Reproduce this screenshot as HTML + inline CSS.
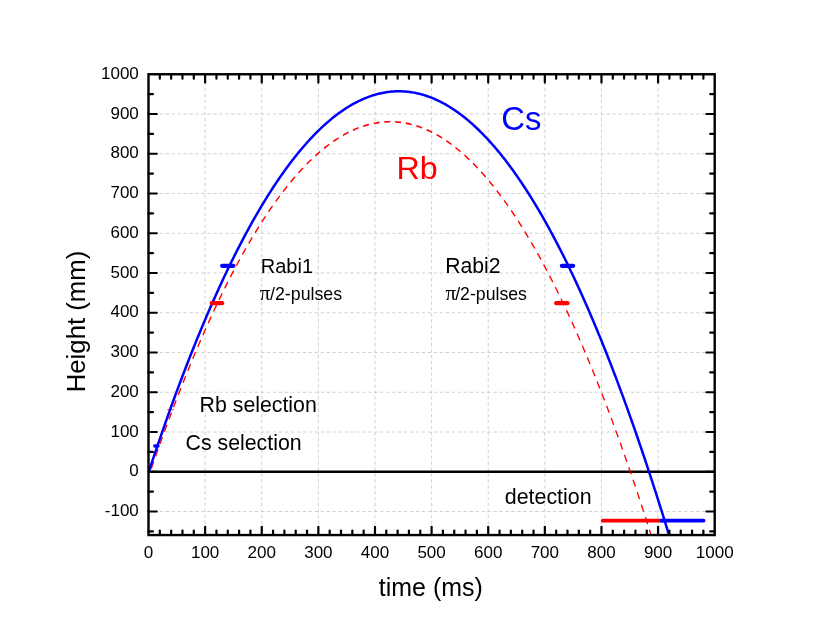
<!DOCTYPE html><html><head><meta charset="utf-8"><title>Cs Rb fountain</title>
<style>html,body{margin:0;padding:0;background:#fff}svg{display:block;will-change:transform}text{font-family:"Liberation Sans",sans-serif}.s{font-family:"Liberation Serif",serif}</style></head><body>
<svg width="830" height="642" viewBox="0 0 830 642">
<rect width="830" height="642" fill="#fff"/>
<g stroke="#c4c4c4" stroke-width="0.8" stroke-dasharray="3.2 2.76" fill="none">
<path d="M205.12 74.25V535.05" stroke-dasharray="3.2 2.73" stroke-dashoffset="4.0"/>
<path d="M261.74 74.25V535.05" stroke-dasharray="3.2 2.73" stroke-dashoffset="4.0"/>
<path d="M318.36 74.25V535.05" stroke-dasharray="3.2 2.73" stroke-dashoffset="4.0"/>
<path d="M374.98 74.25V535.05" stroke-dasharray="3.2 2.73" stroke-dashoffset="4.0"/>
<path d="M431.60 74.25V535.05" stroke-dasharray="3.2 2.73" stroke-dashoffset="4.0"/>
<path d="M488.22 74.25V535.05" stroke-dasharray="3.2 2.73" stroke-dashoffset="4.0"/>
<path d="M544.84 74.25V535.05" stroke-dasharray="3.2 2.73" stroke-dashoffset="4.0"/>
<path d="M601.46 74.25V535.05" stroke-dasharray="3.2 2.73" stroke-dashoffset="4.0"/>
<path d="M658.08 74.25V535.05" stroke-dasharray="3.2 2.73" stroke-dashoffset="4.0"/>
<path d="M148.50 432.00H714.70" stroke-dashoffset="0.7"/>
<path d="M148.50 392.25H714.70" stroke-dashoffset="0.7"/>
<path d="M148.50 352.50H714.70" stroke-dashoffset="0.7"/>
<path d="M148.50 312.75H714.70" stroke-dashoffset="0.7"/>
<path d="M148.50 273.00H714.70" stroke-dashoffset="0.7"/>
<path d="M148.50 233.25H714.70" stroke-dashoffset="0.7"/>
<path d="M148.50 193.50H714.70" stroke-dashoffset="0.7"/>
<path d="M148.50 153.75H714.70" stroke-dashoffset="0.7"/>
<path d="M148.50 114.00H714.70" stroke-dashoffset="0.7"/>
<path d="M148.50 511.50H714.70" stroke-dashoffset="0.7"/>
</g>
<path d="M148.50 471.75H714.70" stroke="#000" stroke-width="2.4"/>
<path d="M167.18 409.74H173.98" stroke="#f00" stroke-width="0.8"/>
<clipPath id="c"><rect x="148.50" y="74.25" width="566.20" height="460.80"/></clipPath>
<g clip-path="url(#c)" fill="none"><g transform="scale(1 1.2570)">
<path d="M150.26,375.298 L151.51,372.403 L152.76,369.522 L154.01,366.657 L155.26,363.806 L156.51,360.971 L157.76,358.151 L159.01,355.346 L160.27,352.556 L161.52,349.782 L162.77,347.022 L164.02,344.278 L165.27,341.549 L166.52,338.834 L167.77,336.135 L169.02,333.452 L170.28,330.783 L171.53,328.129 L172.78,325.491 L174.03,322.868 L175.28,320.259 L176.53,317.666 L177.78,315.088 L179.04,312.526 L180.29,309.978 L181.54,307.446 L182.79,304.928 L184.04,302.426 L185.29,299.939 L186.54,297.467 L187.79,295.010 L189.05,292.568 L190.30,290.142 L191.55,287.730 L192.80,285.334 L194.05,282.953 L195.30,280.587 L196.55,278.236 L197.80,275.900 L199.06,273.580 L200.31,271.274 L201.56,268.984 L202.81,266.709 L204.06,264.449 L205.31,262.204 L206.56,259.974 L207.82,257.759 L209.07,255.560 L210.32,253.375 L211.57,251.206 L212.82,249.052 L214.07,246.913 L215.32,244.789 L216.57,242.680 L217.83,240.587 L219.08,238.508 L220.33,236.445 L221.58,234.397 L222.83,232.364 L224.08,230.346 L225.33,228.343 L226.58,226.355 L227.84,224.383 L229.09,222.425 L230.34,220.483 L231.59,218.556 L232.84,216.644 L234.09,214.747 L235.34,212.866 L236.60,210.999 L237.85,209.148 L239.10,207.311 L240.35,205.490 L241.60,203.684 L242.85,201.893 L244.10,200.117 L245.35,198.357 L246.61,196.611 L247.86,194.881 L249.11,193.166 L250.36,191.465 L251.61,189.781 L252.86,188.111 L254.11,186.456 L255.36,184.816 L256.62,183.192 L257.87,181.583 L259.12,179.989 L260.37,178.410 L261.62,176.846 L262.87,175.297 L264.12,173.763 L265.38,172.245 L266.63,170.741 L267.88,169.253 L269.13,167.780 L270.38,166.322 L271.63,164.879 L272.88,163.452 L274.13,162.039 L275.39,160.642 L276.64,159.259 L277.89,157.892 L279.14,156.540 L280.39,155.203 L281.64,153.882 L282.89,152.575 L284.14,151.284 L285.40,150.007 L286.65,148.746 L287.90,147.500 L289.15,146.269 L290.40,145.053 L291.65,143.853 L292.90,142.667 L294.15,141.497 L295.41,140.342 L296.66,139.201 L297.91,138.076 L299.16,136.967 L300.41,135.872 L301.66,134.792 L302.91,133.728 L304.17,132.679 L305.42,131.644 L306.67,130.625 L307.92,129.621 L309.17,128.633 L310.42,127.659 L311.67,126.700 L312.92,125.757 L314.18,124.829 L315.43,123.916 L316.68,123.018 L317.93,122.135 L319.18,121.267 L320.43,120.415 L321.68,119.577 L322.93,118.755 L324.19,117.948 L325.44,117.156 L326.69,116.379 L327.94,115.617 L329.19,114.870 L330.44,114.139 L331.69,113.423 L332.95,112.721 L334.20,112.035 L335.45,111.364 L336.70,110.709 L337.95,110.068 L339.20,109.442 L340.45,108.832 L341.70,108.237 L342.96,107.656 L344.21,107.091 L345.46,106.542 L346.71,106.007 L347.96,105.487 L349.21,104.983 L350.46,104.493 L351.71,104.019 L352.97,103.560 L354.22,103.116 L355.47,102.687 L356.72,102.274 L357.97,101.875 L359.22,101.492 L360.47,101.124 L361.73,100.770 L362.98,100.432 L364.23,100.110 L365.48,99.802 L366.73,99.509 L367.98,99.232 L369.23,98.970 L370.48,98.722 L371.74,98.490 L372.99,98.273 L374.24,98.072 L375.49,97.885 L376.74,97.713 L377.99,97.557 L379.24,97.416 L380.49,97.290 L381.75,97.179 L383.00,97.083 L384.25,97.002 L385.50,96.937 L386.75,96.886 L388.00,96.851 L389.25,96.831 L390.51,96.826 L391.76,96.836 L393.01,96.861 L394.26,96.901 L395.51,96.957 L396.76,97.028 L398.01,97.113 L399.26,97.214 L400.52,97.330 L401.77,97.461 L403.02,97.608 L404.27,97.769 L405.52,97.946 L406.77,98.137 L408.02,98.344 L409.27,98.566 L410.53,98.803 L411.78,99.056 L413.03,99.323 L414.28,99.606 L415.53,99.903 L416.78,100.216 L418.03,100.544 L419.29,100.887 L420.54,101.245 L421.79,101.619 L423.04,102.007 L424.29,102.411 L425.54,102.829 L426.79,103.263 L428.04,103.712 L429.30,104.176 L430.55,104.656 L431.80,105.150 L433.05,105.660 L434.30,106.184 L435.55,106.724 L436.80,107.279 L438.05,107.849 L439.31,108.434 L440.56,109.035 L441.81,109.650 L443.06,110.281 L444.31,110.926 L445.56,111.587 L446.81,112.263 L448.07,112.955 L449.32,113.661 L450.57,114.382 L451.82,115.119 L453.07,115.870 L454.32,116.637 L455.57,117.419 L456.82,118.216 L458.08,119.029 L459.33,119.856 L460.58,120.698 L461.83,121.556 L463.08,122.429 L464.33,123.317 L465.58,124.220 L466.83,125.138 L468.09,126.071 L469.34,127.020 L470.59,127.983 L471.84,128.962 L473.09,129.956 L474.34,130.965 L475.59,131.989 L476.85,133.028 L478.10,134.083 L479.35,135.152 L480.60,136.237 L481.85,137.337 L483.10,138.451 L484.35,139.581 L485.60,140.727 L486.86,141.887 L488.11,143.062 L489.36,144.253 L490.61,145.459 L491.86,146.680 L493.11,147.916 L494.36,149.167 L495.61,150.433 L496.87,151.714 L498.12,153.011 L499.37,154.323 L500.62,155.649 L501.87,156.991 L503.12,158.348 L504.37,159.721 L505.62,161.108 L506.88,162.510 L508.13,163.928 L509.38,165.361 L510.63,166.809 L511.88,168.272 L513.13,169.750 L514.38,171.243 L515.64,172.752 L516.89,174.275 L518.14,175.814 L519.39,177.368 L520.64,178.937 L521.89,180.521 L523.14,182.120 L524.39,183.734 L525.65,185.364 L526.90,187.008 L528.15,188.668 L529.40,190.343 L530.65,192.033 L531.90,193.738 L533.15,195.459 L534.40,197.194 L535.66,198.945 L536.91,200.710 L538.16,202.491 L539.41,204.287 L540.66,206.098 L541.91,207.924 L543.16,209.766 L544.42,211.622 L545.67,213.494 L546.92,215.381 L548.17,217.283 L549.42,219.200 L550.67,221.132 L551.92,223.079 L553.17,225.042 L554.43,227.019 L555.68,229.012 L556.93,231.020 L558.18,233.043 L559.43,235.081 L560.68,237.134 L561.93,239.203 L563.18,241.286 L564.44,243.385 L565.69,245.499 L566.94,247.627 L568.19,249.772 L569.44,251.931 L570.69,254.105 L571.94,256.295 L573.20,258.499 L574.45,260.719 L575.70,262.954 L576.95,265.204 L578.20,267.469 L579.45,269.749 L580.70,272.045 L581.95,274.355 L583.21,276.681 L584.46,279.022 L585.71,281.378 L586.96,283.749 L588.21,286.135 L589.46,288.536 L590.71,290.953 L591.96,293.384 L593.22,295.831 L594.47,298.293 L595.72,300.770 L596.97,303.262 L598.22,305.769 L599.47,308.292 L600.72,310.829 L601.98,313.382 L603.23,315.950 L604.48,318.533 L605.73,321.131 L606.98,323.744 L608.23,326.373 L609.48,329.016 L610.73,331.675 L611.99,334.349 L613.24,337.037 L614.49,339.742 L615.74,342.461 L616.99,345.195 L618.24,347.944 L619.49,350.709 L620.74,353.489 L622.00,356.284 L623.25,359.094 L624.50,361.919 L625.75,364.759 L627.00,367.614 L628.25,370.485 L629.50,373.371 L630.76,376.271 L632.01,379.187 L633.26,382.118 L634.51,385.065 L635.76,388.026 L637.01,391.002 L638.26,393.994 L639.51,397.001 L640.77,400.022 L642.02,403.059 L643.27,406.112 L644.52,409.179 L645.77,412.261 L647.02,415.359 L648.27,418.472 L649.52,421.599 L650.78,424.742" stroke="#f00" stroke-width="1.3" stroke-dasharray="6.0 4.75" stroke-dashoffset="8.08"/>
</g>
<path d="M148.78,471.750 L150.09,467.790 L151.39,463.850 L152.70,459.932 L154.00,456.034 L155.31,452.156 L156.61,448.300 L157.92,444.464 L159.22,440.649 L160.53,436.854 L161.83,433.080 L163.14,429.327 L164.44,425.595 L165.75,421.883 L167.05,418.193 L168.36,414.522 L169.66,410.873 L170.97,407.244 L172.27,403.636 L173.58,400.049 L174.88,396.482 L176.19,392.937 L177.49,389.411 L178.80,385.907 L180.11,382.423 L181.41,378.960 L182.72,375.518 L184.02,372.097 L185.33,368.696 L186.63,365.316 L187.94,361.956 L189.24,358.618 L190.55,355.300 L191.85,352.002 L193.16,348.726 L194.46,345.470 L195.77,342.235 L197.07,339.021 L198.38,335.827 L199.68,332.654 L200.99,329.502 L202.29,326.371 L203.60,323.260 L204.90,320.170 L206.21,317.100 L207.51,314.052 L208.82,311.024 L210.12,308.017 L211.43,305.030 L212.73,302.064 L214.04,299.119 L215.34,296.195 L216.65,293.292 L217.95,290.409 L219.26,287.547 L220.56,284.705 L221.87,281.884 L223.17,279.084 L224.48,276.305 L225.78,273.547 L227.09,270.809 L228.39,268.092 L229.70,265.395 L231.00,262.719 L232.31,260.064 L233.61,257.430 L234.92,254.817 L236.22,252.224 L237.53,249.652 L238.83,247.100 L240.14,244.570 L241.44,242.060 L242.75,239.570 L244.05,237.102 L245.36,234.654 L246.66,232.227 L247.97,229.821 L249.27,227.435 L250.58,225.070 L251.88,222.726 L253.19,220.402 L254.49,218.100 L255.80,215.818 L257.11,213.556 L258.41,211.316 L259.72,209.096 L261.02,206.897 L262.33,204.718 L263.63,202.560 L264.94,200.423 L266.24,198.307 L267.55,196.211 L268.85,194.137 L270.16,192.082 L271.46,190.049 L272.77,188.036 L274.07,186.044 L275.38,184.073 L276.68,182.122 L277.99,180.192 L279.29,178.283 L280.60,176.395 L281.90,174.527 L283.21,172.680 L284.51,170.854 L285.82,169.048 L287.12,167.264 L288.43,165.500 L289.73,163.756 L291.04,162.033 L292.34,160.331 L293.65,158.650 L294.95,156.990 L296.26,155.350 L297.56,153.731 L298.87,152.132 L300.17,150.555 L301.48,148.998 L302.78,147.462 L304.09,145.946 L305.39,144.451 L306.70,142.977 L308.00,141.524 L309.31,140.091 L310.61,138.679 L311.92,137.288 L313.22,135.918 L314.53,134.568 L315.83,133.239 L317.14,131.931 L318.44,130.643 L319.75,129.376 L321.05,128.130 L322.36,126.905 L323.66,125.700 L324.97,124.516 L326.27,123.353 L327.58,122.210 L328.88,121.088 L330.19,119.987 L331.49,118.906 L332.80,117.847 L334.11,116.808 L335.41,115.790 L336.72,114.792 L338.02,113.815 L339.33,112.859 L340.63,111.924 L341.94,111.009 L343.24,110.115 L344.55,109.242 L345.85,108.389 L347.16,107.557 L348.46,106.746 L349.77,105.956 L351.07,105.186 L352.38,104.437 L353.68,103.709 L354.99,103.002 L356.29,102.315 L357.60,101.649 L358.90,101.003 L360.21,100.379 L361.51,99.775 L362.82,99.192 L364.12,98.629 L365.43,98.087 L366.73,97.566 L368.04,97.066 L369.34,96.586 L370.65,96.128 L371.95,95.689 L373.26,95.272 L374.56,94.875 L375.87,94.499 L377.17,94.144 L378.48,93.809 L379.78,93.495 L381.09,93.202 L382.39,92.930 L383.70,92.678 L385.00,92.447 L386.31,92.237 L387.61,92.047 L388.92,91.878 L390.22,91.730 L391.53,91.603 L392.83,91.496 L394.14,91.410 L395.44,91.345 L396.75,91.300 L398.05,91.277 L399.36,91.274 L400.66,91.291 L401.97,91.329 L403.27,91.389 L404.58,91.468 L405.88,91.569 L407.19,91.690 L408.49,91.832 L409.80,91.995 L411.10,92.178 L412.41,92.382 L413.72,92.607 L415.02,92.852 L416.33,93.119 L417.63,93.405 L418.94,93.713 L420.24,94.042 L421.55,94.391 L422.85,94.760 L424.16,95.151 L425.46,95.562 L426.77,95.994 L428.07,96.447 L429.38,96.920 L430.68,97.414 L431.99,97.929 L433.29,98.465 L434.60,99.021 L435.90,99.598 L437.21,100.196 L438.51,100.814 L439.82,101.453 L441.12,102.113 L442.43,102.794 L443.73,103.495 L445.04,104.217 L446.34,104.960 L447.65,105.723 L448.95,106.508 L450.26,107.313 L451.56,108.138 L452.87,108.984 L454.17,109.851 L455.48,110.739 L456.78,111.648 L458.09,112.577 L459.39,113.527 L460.70,114.497 L462.00,115.489 L463.31,116.501 L464.61,117.534 L465.92,118.587 L467.22,119.661 L468.53,120.756 L469.83,121.872 L471.14,123.008 L472.44,124.166 L473.75,125.343 L475.05,126.542 L476.36,127.761 L477.66,129.001 L478.97,130.262 L480.27,131.543 L481.58,132.845 L482.88,134.168 L484.19,135.512 L485.49,136.876 L486.80,138.261 L488.10,139.667 L489.41,141.093 L490.72,142.540 L492.02,144.008 L493.33,145.497 L494.63,147.006 L495.94,148.536 L497.24,150.087 L498.55,151.658 L499.85,153.250 L501.16,154.863 L502.46,156.497 L503.77,158.151 L505.07,159.826 L506.38,161.522 L507.68,163.238 L508.99,164.976 L510.29,166.734 L511.60,168.512 L512.90,170.312 L514.21,172.132 L515.51,173.972 L516.82,175.834 L518.12,177.716 L519.43,179.619 L520.73,181.543 L522.04,183.487 L523.34,185.452 L524.65,187.438 L525.95,189.444 L527.26,191.472 L528.56,193.520 L529.87,195.588 L531.17,197.678 L532.48,199.788 L533.78,201.919 L535.09,204.070 L536.39,206.243 L537.70,208.436 L539.00,210.649 L540.31,212.884 L541.61,215.139 L542.92,217.415 L544.22,219.711 L545.53,222.028 L546.83,224.367 L548.14,226.725 L549.44,229.105 L550.75,231.505 L552.05,233.926 L553.36,236.367 L554.66,238.830 L555.97,241.313 L557.27,243.816 L558.58,246.341 L559.88,248.886 L561.19,251.452 L562.49,254.039 L563.80,256.646 L565.10,259.274 L566.41,261.923 L567.72,264.592 L569.02,267.283 L570.33,269.993 L571.63,272.725 L572.94,275.477 L574.24,278.251 L575.55,281.044 L576.85,283.859 L578.16,286.694 L579.46,289.550 L580.77,292.427 L582.07,295.324 L583.38,298.242 L584.68,301.181 L585.99,304.141 L587.29,307.121 L588.60,310.122 L589.90,313.144 L591.21,316.186 L592.51,319.249 L593.82,322.333 L595.12,325.437 L596.43,328.563 L597.73,331.709 L599.04,334.875 L600.34,338.063 L601.65,341.271 L602.95,344.500 L604.26,347.750 L605.56,351.020 L606.87,354.311 L608.17,357.623 L609.48,360.955 L610.78,364.308 L612.09,367.682 L613.39,371.077 L614.70,374.492 L616.00,377.928 L617.31,381.385 L618.61,384.862 L619.92,388.361 L621.22,391.880 L622.53,395.419 L623.83,398.980 L625.14,402.561 L626.44,406.162 L627.75,409.785 L629.05,413.428 L630.36,417.092 L631.66,420.777 L632.97,424.482 L634.27,428.208 L635.58,431.955 L636.88,435.723 L638.19,439.511 L639.49,443.320 L640.80,447.150 L642.10,451.000 L643.41,454.871 L644.72,458.763 L646.02,462.676 L647.33,466.609 L648.63,470.563 L649.94,474.538 L651.24,478.533 L652.55,482.549 L653.85,486.586 L655.16,490.644 L656.46,494.722 L657.77,498.821 L659.07,502.941 L660.38,507.081 L661.68,511.242 L662.99,515.424 L664.29,519.627 L665.60,523.850 L666.90,528.094 L668.21,532.359 L669.51,536.644 L670.82,540.951" stroke="#00f" stroke-width="2.5"/>
</g>
<g stroke-linecap="round" stroke-width="4.2" fill="none">
<path d="M222.11 265.85H233.43" stroke="#00f"/>
<path d="M211.80 303.21H222.11" stroke="#f00"/>
<path d="M561.83 265.85H573.15" stroke="#00f"/>
<path d="M556.16 303.21H567.49" stroke="#f00"/>
<path d="M154.90 445.99H157.90" stroke="#00f" stroke-width="3.6"/>
<path d="M602.71 520.64H659.78" stroke="#f00" stroke-width="3.7"/>
<path d="M662.61 520.64H703.55" stroke="#00f" stroke-width="3.7"/>
<path d="M659.90 520.64H663.18" stroke="#00f" stroke-width="3.7" stroke-linecap="butt"/>
</g>
<rect x="148.50" y="74.25" width="566.20" height="460.80" fill="none" stroke="#000" stroke-width="2.4"/>
<g stroke="#000" stroke-width="2.2" stroke-linecap="round" fill="none">
<path d="M159.82 74.25v4.50"/>
<path d="M159.82 535.05v-4.50"/>
<path d="M171.15 74.25v4.50"/>
<path d="M171.15 535.05v-4.50"/>
<path d="M182.47 74.25v4.50"/>
<path d="M182.47 535.05v-4.50"/>
<path d="M193.80 74.25v4.50"/>
<path d="M193.80 535.05v-4.50"/>
<path d="M205.12 74.25v8.30"/>
<path d="M205.12 535.05v-8.30"/>
<path d="M216.44 74.25v4.50"/>
<path d="M216.44 535.05v-4.50"/>
<path d="M227.77 74.25v4.50"/>
<path d="M227.77 535.05v-4.50"/>
<path d="M239.09 74.25v4.50"/>
<path d="M239.09 535.05v-4.50"/>
<path d="M250.42 74.25v4.50"/>
<path d="M250.42 535.05v-4.50"/>
<path d="M261.74 74.25v8.30"/>
<path d="M261.74 535.05v-8.30"/>
<path d="M273.06 74.25v4.50"/>
<path d="M273.06 535.05v-4.50"/>
<path d="M284.39 74.25v4.50"/>
<path d="M284.39 535.05v-4.50"/>
<path d="M295.71 74.25v4.50"/>
<path d="M295.71 535.05v-4.50"/>
<path d="M307.04 74.25v4.50"/>
<path d="M307.04 535.05v-4.50"/>
<path d="M318.36 74.25v8.30"/>
<path d="M318.36 535.05v-8.30"/>
<path d="M329.68 74.25v4.50"/>
<path d="M329.68 535.05v-4.50"/>
<path d="M341.01 74.25v4.50"/>
<path d="M341.01 535.05v-4.50"/>
<path d="M352.33 74.25v4.50"/>
<path d="M352.33 535.05v-4.50"/>
<path d="M363.66 74.25v4.50"/>
<path d="M363.66 535.05v-4.50"/>
<path d="M374.98 74.25v8.30"/>
<path d="M374.98 535.05v-8.30"/>
<path d="M386.30 74.25v4.50"/>
<path d="M386.30 535.05v-4.50"/>
<path d="M397.63 74.25v4.50"/>
<path d="M397.63 535.05v-4.50"/>
<path d="M408.95 74.25v4.50"/>
<path d="M408.95 535.05v-4.50"/>
<path d="M420.28 74.25v4.50"/>
<path d="M420.28 535.05v-4.50"/>
<path d="M431.60 74.25v8.30"/>
<path d="M431.60 535.05v-8.30"/>
<path d="M442.92 74.25v4.50"/>
<path d="M442.92 535.05v-4.50"/>
<path d="M454.25 74.25v4.50"/>
<path d="M454.25 535.05v-4.50"/>
<path d="M465.57 74.25v4.50"/>
<path d="M465.57 535.05v-4.50"/>
<path d="M476.90 74.25v4.50"/>
<path d="M476.90 535.05v-4.50"/>
<path d="M488.22 74.25v8.30"/>
<path d="M488.22 535.05v-8.30"/>
<path d="M499.54 74.25v4.50"/>
<path d="M499.54 535.05v-4.50"/>
<path d="M510.87 74.25v4.50"/>
<path d="M510.87 535.05v-4.50"/>
<path d="M522.19 74.25v4.50"/>
<path d="M522.19 535.05v-4.50"/>
<path d="M533.52 74.25v4.50"/>
<path d="M533.52 535.05v-4.50"/>
<path d="M544.84 74.25v8.30"/>
<path d="M544.84 535.05v-8.30"/>
<path d="M556.16 74.25v4.50"/>
<path d="M556.16 535.05v-4.50"/>
<path d="M567.49 74.25v4.50"/>
<path d="M567.49 535.05v-4.50"/>
<path d="M578.81 74.25v4.50"/>
<path d="M578.81 535.05v-4.50"/>
<path d="M590.14 74.25v4.50"/>
<path d="M590.14 535.05v-4.50"/>
<path d="M601.46 74.25v8.30"/>
<path d="M601.46 535.05v-8.30"/>
<path d="M612.78 74.25v4.50"/>
<path d="M612.78 535.05v-4.50"/>
<path d="M624.11 74.25v4.50"/>
<path d="M624.11 535.05v-4.50"/>
<path d="M635.43 74.25v4.50"/>
<path d="M635.43 535.05v-4.50"/>
<path d="M646.76 74.25v4.50"/>
<path d="M646.76 535.05v-4.50"/>
<path d="M658.08 74.25v8.30"/>
<path d="M658.08 535.05v-8.30"/>
<path d="M669.40 74.25v4.50"/>
<path d="M669.40 535.05v-4.50"/>
<path d="M680.73 74.25v4.50"/>
<path d="M680.73 535.05v-4.50"/>
<path d="M692.05 74.25v4.50"/>
<path d="M692.05 535.05v-4.50"/>
<path d="M703.38 74.25v4.50"/>
<path d="M703.38 535.05v-4.50"/>
<path d="M148.50 531.38h4.50"/>
<path d="M714.70 531.38h-4.50"/>
<path d="M148.50 511.50h8.30"/>
<path d="M714.70 511.50h-8.30"/>
<path d="M148.50 491.62h4.50"/>
<path d="M714.70 491.62h-4.50"/>
<path d="M148.50 471.75h8.30"/>
<path d="M714.70 471.75h-8.30"/>
<path d="M148.50 451.88h4.50"/>
<path d="M714.70 451.88h-4.50"/>
<path d="M148.50 432.00h8.30"/>
<path d="M714.70 432.00h-8.30"/>
<path d="M148.50 412.12h4.50"/>
<path d="M714.70 412.12h-4.50"/>
<path d="M148.50 392.25h8.30"/>
<path d="M714.70 392.25h-8.30"/>
<path d="M148.50 372.38h4.50"/>
<path d="M714.70 372.38h-4.50"/>
<path d="M148.50 352.50h8.30"/>
<path d="M714.70 352.50h-8.30"/>
<path d="M148.50 332.62h4.50"/>
<path d="M714.70 332.62h-4.50"/>
<path d="M148.50 312.75h8.30"/>
<path d="M714.70 312.75h-8.30"/>
<path d="M148.50 292.88h4.50"/>
<path d="M714.70 292.88h-4.50"/>
<path d="M148.50 273.00h8.30"/>
<path d="M714.70 273.00h-8.30"/>
<path d="M148.50 253.12h4.50"/>
<path d="M714.70 253.12h-4.50"/>
<path d="M148.50 233.25h8.30"/>
<path d="M714.70 233.25h-8.30"/>
<path d="M148.50 213.38h4.50"/>
<path d="M714.70 213.38h-4.50"/>
<path d="M148.50 193.50h8.30"/>
<path d="M714.70 193.50h-8.30"/>
<path d="M148.50 173.62h4.50"/>
<path d="M714.70 173.62h-4.50"/>
<path d="M148.50 153.75h8.30"/>
<path d="M714.70 153.75h-8.30"/>
<path d="M148.50 133.88h4.50"/>
<path d="M714.70 133.88h-4.50"/>
<path d="M148.50 114.00h8.30"/>
<path d="M714.70 114.00h-8.30"/>
<path d="M148.50 94.12h4.50"/>
<path d="M714.70 94.12h-4.50"/>
</g>
<g font-size="17" fill="#000">
<text x="148.50" y="558" text-anchor="middle">0</text>
<text x="205.12" y="558" text-anchor="middle">100</text>
<text x="261.74" y="558" text-anchor="middle">200</text>
<text x="318.36" y="558" text-anchor="middle">300</text>
<text x="374.98" y="558" text-anchor="middle">400</text>
<text x="431.60" y="558" text-anchor="middle">500</text>
<text x="488.22" y="558" text-anchor="middle">600</text>
<text x="544.84" y="558" text-anchor="middle">700</text>
<text x="601.46" y="558" text-anchor="middle">800</text>
<text x="658.08" y="558" text-anchor="middle">900</text>
<text x="714.70" y="558" text-anchor="middle">1000</text>
<text x="138.8" y="516.15" text-anchor="end">-100</text>
<text x="138.8" y="476.40" text-anchor="end">0</text>
<text x="138.8" y="436.65" text-anchor="end">100</text>
<text x="138.8" y="396.90" text-anchor="end">200</text>
<text x="138.8" y="357.15" text-anchor="end">300</text>
<text x="138.8" y="317.40" text-anchor="end">400</text>
<text x="138.8" y="277.65" text-anchor="end">500</text>
<text x="138.8" y="237.90" text-anchor="end">600</text>
<text x="138.8" y="198.15" text-anchor="end">700</text>
<text x="138.8" y="158.40" text-anchor="end">800</text>
<text x="138.8" y="118.65" text-anchor="end">900</text>
<text x="138.8" y="78.90" text-anchor="end">1000</text>
</g>
<text x="430.8" y="596.2" font-size="24.95" text-anchor="middle">time (ms)</text>
<text transform="translate(84.5 321.5) rotate(-90)" font-size="25.75" text-anchor="middle">Height (mm)</text>
<text x="501.3" y="130.2" font-size="32.8" fill="#00f">Cs</text>
<text x="396.5" y="178.8" font-size="32.2" fill="#f00">Rb</text>
<text x="260.8" y="273.2" font-size="20">Rabi1</text>
<text x="445.2" y="273.2" font-size="21.2">Rabi2</text>
<text y="300.4" font-size="17.8"><tspan class="s" x="259.8" font-size="21">π</tspan><tspan x="270">/2-pulses</tspan></text>
<text y="300.4" font-size="17.7"><tspan class="s" x="445.6" font-size="21">π</tspan><tspan x="455.2">/2-pulses</tspan></text>
<text x="199.6" y="411.8" font-size="21.3">Rb selection</text>
<text x="185.6" y="449.7" font-size="21.3">Cs selection</text>
<text x="504.8" y="504.4" font-size="21.4">detection</text>
</svg></body></html>
